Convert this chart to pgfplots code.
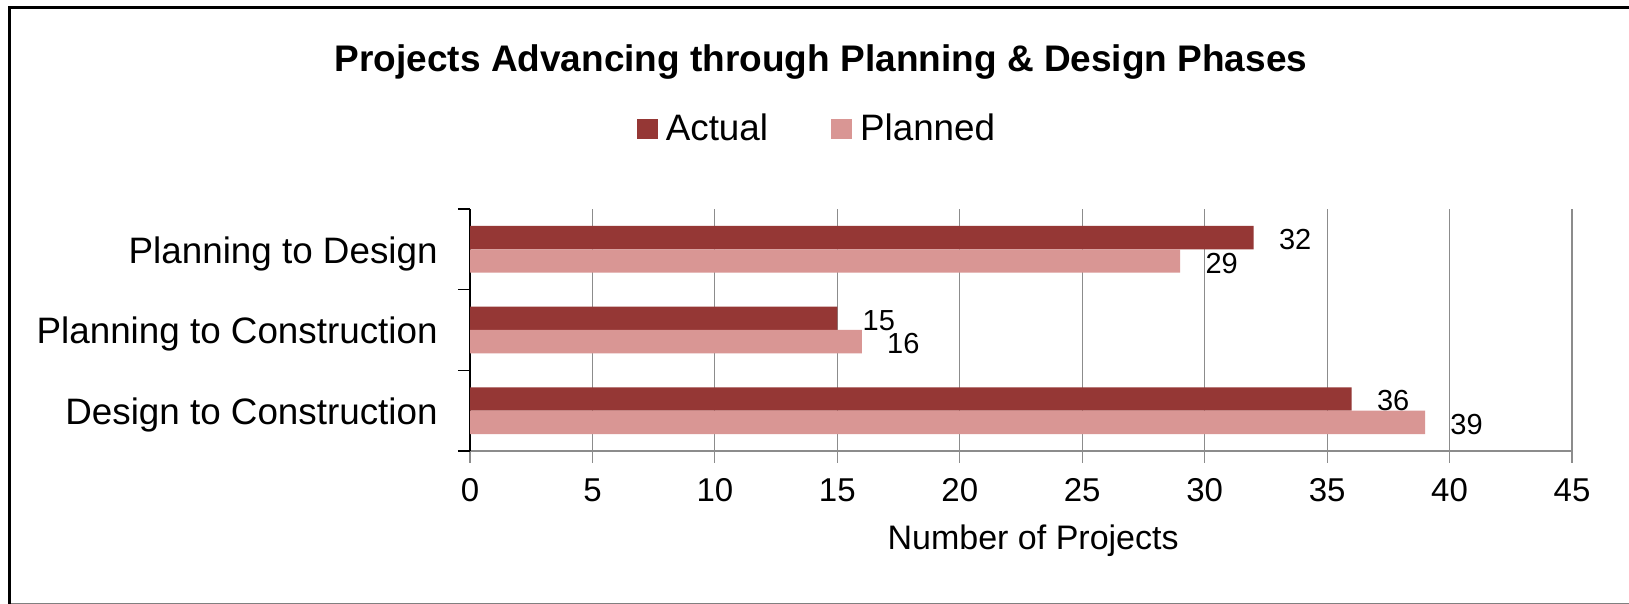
\documentclass[border=0pt]{standalone}
\usepackage{pgfplots}
\pgfplotsset{compat=1.18}
\usepackage{fontspec}
\setmainfont{Liberation Sans}
\definecolor{actual}{HTML}{953735}
\definecolor{planned}{HTML}{D99694}
\definecolor{gridgray}{HTML}{8C8C8C}
\begin{document}
\begin{tikzpicture}
\path[use as bounding box] (0,0) rectangle (814.5pt,302pt);
\fill[white] (0,0) rectangle (814.5pt,302pt);
% chart frame (right edge is cut off in the reference)
\draw[gray, line width=0.6pt] (4pt,0.4pt) -- (814.5pt,0.4pt);
\draw[black, line width=1.6pt] (4.75pt,0) -- (4.75pt,298.4pt) -- (814.5pt,298.4pt);
\node[anchor=base, font=\fontsize{18.5}{22}\selectfont\bfseries] at (410.5pt,266pt)
  {Projects Advancing through Planning \& Design Phases};
\begin{axis}[
  at={(235pt,76.5pt)}, anchor=south west,
  scale only axis, width=551pt, height=121pt,
  xbar, bar width=0.29,
  xmin=0, xmax=45, ymin=-0.5, ymax=2.5,
  xtick={0,5,...,45},
  ytick={-0.5,0.5,1.5,2.5}, yticklabels={},
  extra y ticks={0,1,2},
  extra y tick labels={Design to Construction, Planning to Construction, Planning to Design},
  extra y tick style={major tick length=0pt,
    yticklabel style={font=\fontsize{18.4}{22}\selectfont, anchor=base east,
      inner sep=0pt, xshift=-16pt, yshift=-7pt}},
  axis lines=left, axis line style={-},
  x axis line style={gridgray, line width=0.6pt},
  y axis line style={black, line width=0.8pt},
  tick align=outside, major tick length=6pt,
  xtick style={gridgray, line width=0.6pt},
  ytick style={black, line width=0.8pt},
  xmajorgrids, major grid style={gridgray, line width=0.6pt},
  /pgf/number format/assume math mode=true,
  xticklabel style={font=\fontsize{16.5}{20}\selectfont, anchor=base, inner sep=0pt, yshift=-19.5pt},
  xlabel={Number of Projects},
  xlabel style={at={(axis description cs:0.511,-0.405)}, anchor=base,
    font=\fontsize{17}{20}\selectfont, inner sep=0pt},
  nodes near coords,
  nodes near coords style={anchor=west, inner sep=0pt, xshift=12.5pt, yshift=-1pt,
    text=black, font=\fontsize{14.5}{17}\selectfont},
  legend columns=2,
  legend style={at={(0.3153,1.33)}, anchor=center, draw=none, fill=none,
    font=\fontsize{18.4}{22}\selectfont,
    /tikz/every even column/.append style={column sep=30pt},
    nodes={inner sep=1.5pt}},
  legend image code/.code={\fill[#1] (0pt,-5pt) rectangle (10.5pt,5pt); \path (13pt,0pt);},
]
\addplot[fill=actual, draw=none, bar shift=0.145] coordinates {(36,0) (15,1) (32,2)};
\addplot[fill=planned, draw=none, bar shift=-0.145] coordinates {(39,0) (16,1) (29,2)};
\legend{Actual, Planned}
\end{axis}
\end{tikzpicture}
\end{document}
